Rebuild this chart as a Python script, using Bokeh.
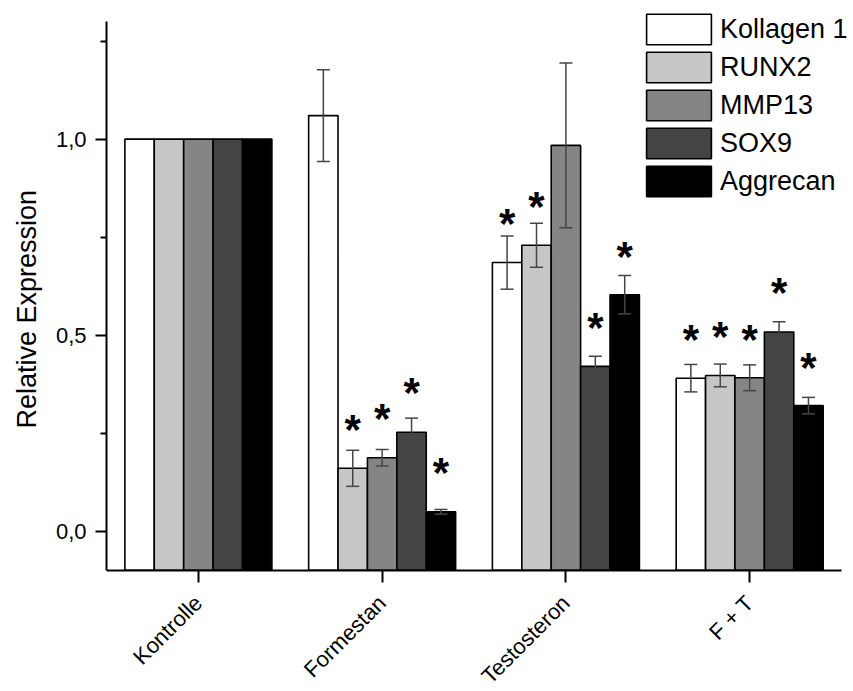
import math
from bokeh.plotting import figure
from bokeh.models import (ColumnDataSource, FixedTicker, Range1d, Whisker, TeeHead, Legend,
                          LegendItem, Title)
from bokeh.core.properties import value
from bokeh.embed import file_html
from bokeh.resources import INLINE

groups = ["Kontrolle", "Formestan", "Testosteron", "F + T"]
genes = ["Kollagen 1", "RUNX2", "MMP13", "SOX9", "Aggrecan"]
colors = ["#ffffff", "#c6c6c6", "#858585", "#444444", "#000000"]

kollagen = [1.0, 1.06, 0.685, 0.390]
runx2 = [1.0, 0.160, 0.729, 0.397]
mmp13 = [1.0, 0.187, 0.984, 0.391]
sox9 = [1.0, 0.252, 0.420, 0.508]
aggrecan = [1.0, 0.049, 0.603, 0.320]

err_kollagen = [0.0, 0.117, 0.068, 0.035]
err_runx2 = [0.0, 0.046, 0.056, 0.029]
err_mmp13 = [0.0, 0.021, 0.210, 0.033]
err_sox9 = [0.0, 0.036, 0.026, 0.026]
err_aggrecan = [0.0, 0.006, 0.049, 0.021]

star_kollagen = [None, None, 0.798, 0.501]
star_runx2 = [None, 0.271, 0.840, 0.509]
star_mmp13 = [None, 0.301, None, 0.501]
star_sox9 = [None, 0.365, 0.531, 0.621]
star_aggrecan = [None, 0.161, 0.714, 0.429]

y_ticks = [0.0, 0.5, 1.0]
y_minor = [0.25, 0.75, 1.25]
y_tick_labels = ["0,0", "0,5", "1,0"]

values = [kollagen, runx2, mmp13, sox9, aggrecan]
errors = [err_kollagen, err_runx2, err_mmp13, err_sox9, err_aggrecan]
stars = [star_kollagen, star_runx2, star_mmp13, star_sox9, star_aggrecan]

FONT = "Liberation Sans"
Y_MIN, Y_AXIS_TOP = -0.1, 1.3
X_MIN, X_AXIS_END = -0.5, 3.5
BAR_W = 0.16

p = figure(width=853, height=691,
           x_range=Range1d(X_MIN, 3.565), y_range=Range1d(-0.4095, 1.3537),
           output_backend="svg", toolbar_location=None,
           min_border_left=105, min_border_right=0, min_border_top=0, min_border_bottom=0)
p.xgrid.grid_line_color = None
p.ygrid.grid_line_color = None
p.outline_line_color = None
p.background_fill_color = "white"
p.border_fill_color = "white"

items = []
for i, (gene, col, vals, errs, st) in enumerate(zip(genes, colors, values, errors, stars)):
    xs = [g + (i - 2) * BAR_W for g in range(len(groups))]
    src = ColumnDataSource(dict(x=xs, top=vals))
    r = p.vbar(x="x", top="top", bottom=Y_MIN, width=BAR_W, fill_color=col,
               line_color="black", line_width=1.6, source=src)
    items.append(LegendItem(label=gene, renderers=[r]))

    wx = [x for x, e in zip(xs, errs) if e > 0]
    wu = [v + e for v, e in zip(vals, errs) if e > 0]
    wl = [v - e for v, e in zip(vals, errs) if e > 0]
    wsrc = ColumnDataSource(dict(x=wx, upper=wu, lower=wl))
    w = Whisker(source=wsrc, base="x", upper="upper", lower="lower", level="annotation",
                line_color="#454545", line_width=1.5,
                upper_head=TeeHead(size=13, line_color="#454545", line_width=1.5),
                lower_head=TeeHead(size=13, line_color="#454545", line_width=1.5))
    p.add_layout(w)

    sx = [x for x, s in zip(xs, st) if s is not None]
    sy = [s for s in st if s is not None]
    ssrc = ColumnDataSource(dict(x=sx, y=sy, t=["*"] * len(sx)))
    p.text(x="x", y="y", text="t", source=ssrc, text_font=value(FONT), text_font_size="42px",
           text_font_style="bold", text_align="center", text_baseline="alphabetic",
           y_offset=5, text_color="black")

legend = Legend(items=items, location=(532, 491), glyph_width=81, glyph_height=38, spacing=-3,
                padding=0, margin=0, label_standoff=1, border_line_color=None,
                background_fill_alpha=0, label_text_font_size="27px", label_text_font=FONT,
                label_text_color="black", label_height=20)
p.add_layout(legend)

xa = p.xaxis[0]
xa.fixed_location = Y_MIN
xa.bounds = (X_MIN, X_AXIS_END)
xa.ticker = FixedTicker(ticks=list(range(len(groups))))
xa.major_label_overrides = {i: g for i, g in enumerate(groups)}
xa.major_label_orientation = math.pi / 4
xa.major_label_text_font = FONT
xa.major_label_text_font_size = "22px"
xa.major_label_text_color = "black"
xa.major_label_standoff = 17
xa.major_tick_out = 12
xa.major_tick_in = 0
xa.minor_tick_line_color = None
xa.axis_line_width = 2
xa.major_tick_line_width = 2
xa.axis_line_color = "black"

ya = p.yaxis[0]
ya.bounds = (Y_MIN, Y_AXIS_TOP)
ya.ticker = FixedTicker(ticks=y_ticks, minor_ticks=y_minor)
ya.major_label_overrides = {t: l for t, l in zip(y_ticks, y_tick_labels)}
ya.major_label_text_font = FONT
ya.major_label_text_font_size = "22px"
ya.major_label_text_color = "black"
ya.major_label_standoff = 9
ya.major_tick_out = 11
ya.major_tick_in = 0
ya.minor_tick_out = 6
ya.minor_tick_in = 0
ya.axis_line_width = 2
ya.major_tick_line_width = 2
ya.minor_tick_line_width = 2

ylabel = Title(text="Relative Expression", align="left", offset=263, standoff=20,
               vertical_align="middle",
               text_font=FONT, text_font_size="27px", text_font_style="normal",
               text_color="black")
p.add_layout(ylabel, "left")

open("out.html", "w").write(file_html(p, INLINE))
